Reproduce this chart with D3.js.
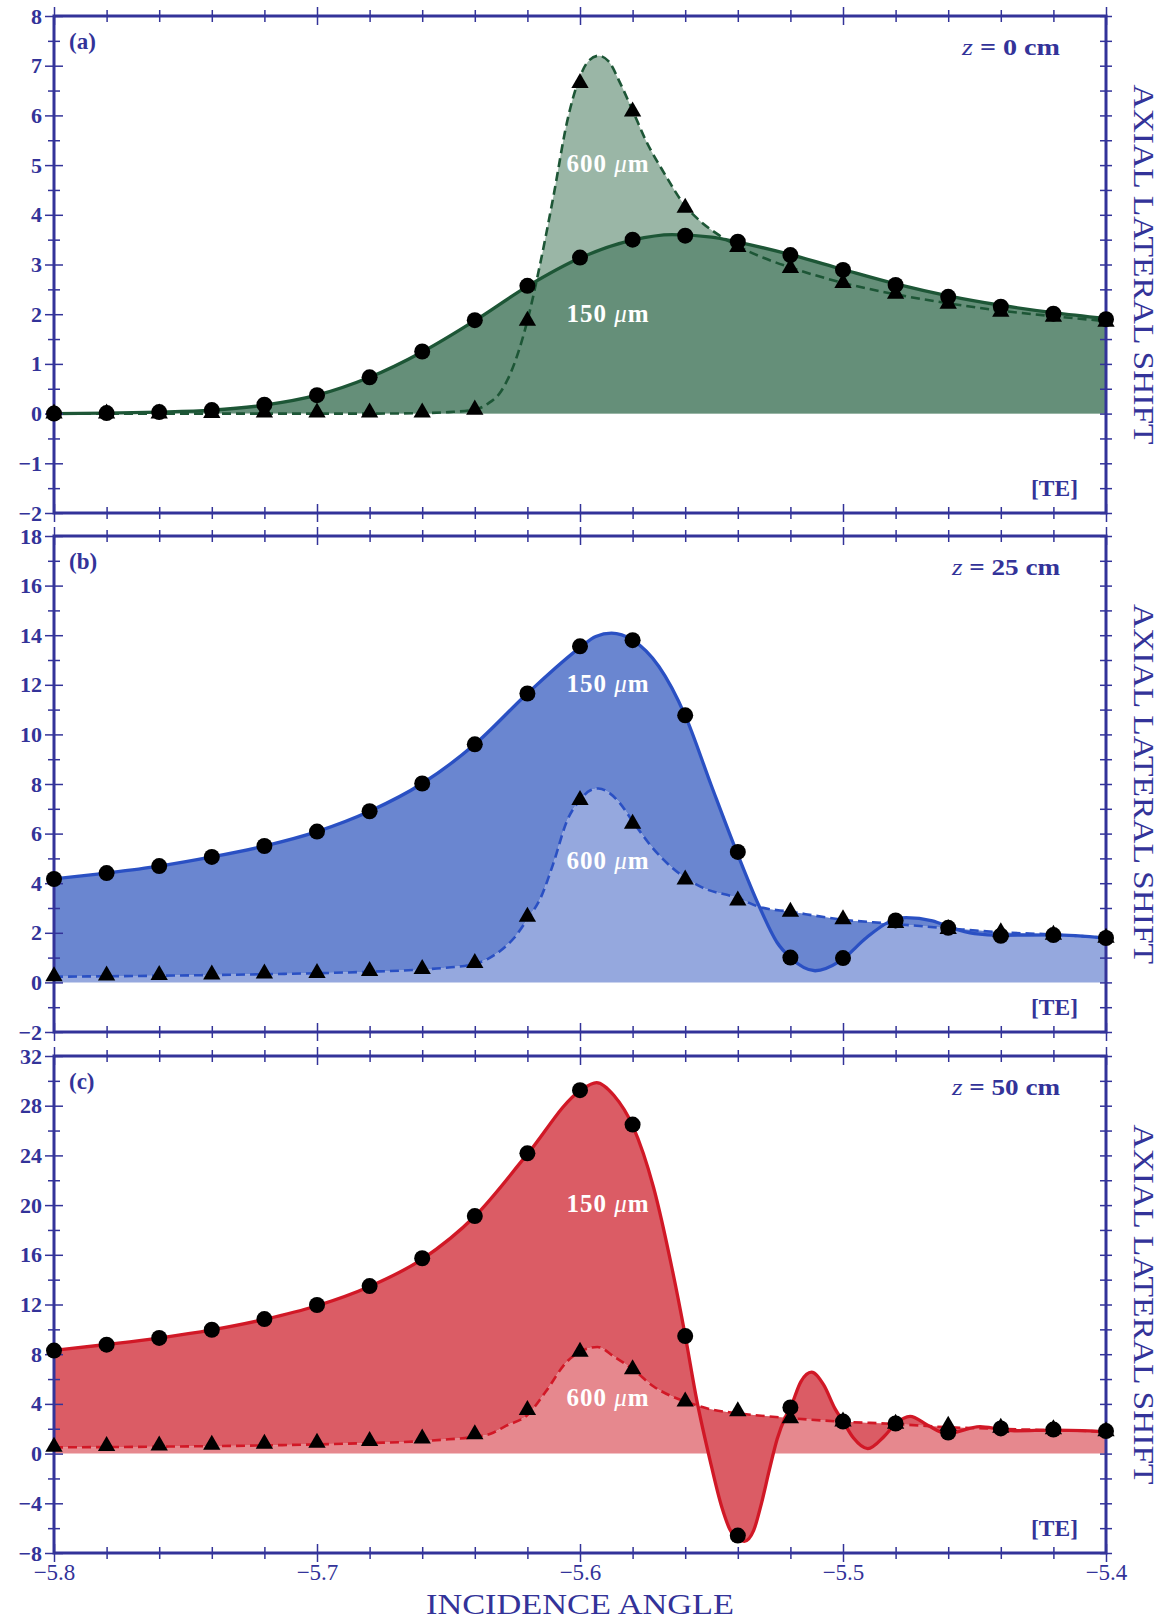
<!DOCTYPE html>
<html><head><meta charset="utf-8">
<script src="https://cdn.jsdelivr.net/npm/d3@7"></script>
<style>body{margin:0;background:#fff}</style>
</head><body>
<svg id="chart" width="1160" height="1618" xmlns="http://www.w3.org/2000/svg"></svg>
<script>
// ---------- data ----------
const angles = [-5.80,-5.78,-5.76,-5.74,-5.72,-5.70,-5.68,-5.66,-5.64,-5.62,-5.60,-5.58,-5.56,-5.54,-5.52,-5.50,-5.48,-5.46,-5.44,-5.42,-5.40];

// simulation markers (circles = 150 um, triangles = 600 um)
const markA150 = [0.00,0.01,0.03,0.07,0.18,0.37,0.73,1.25,1.88,2.57,3.14,3.50,3.58,3.46,3.19,2.89,2.59,2.35,2.15,2.01,1.90];
const markA600 = [0.00,0.00,0.00,0.01,0.02,0.02,0.02,0.02,0.08,1.87,6.65,6.08,4.14,3.35,2.93,2.63,2.41,2.21,2.05,1.95,1.85];
const markB150 = [4.17,4.41,4.69,5.06,5.50,6.08,6.90,8.02,9.60,11.65,13.55,13.80,10.77,5.26,1.00,0.98,2.50,2.20,1.88,1.91,1.79];
const markB600 = [0.25,0.28,0.30,0.32,0.36,0.38,0.46,0.54,0.78,2.65,7.35,6.40,4.15,3.30,2.85,2.55,2.40,2.15,2.02,1.92,1.80];
const markC150 = [8.29,8.77,9.31,9.97,10.83,11.96,13.48,15.72,19.12,24.17,29.25,26.48,9.46,-6.60,3.72,2.58,2.42,1.70,2.03,1.93,1.81];
const markC600 = [0.56,0.62,0.66,0.72,0.80,0.88,1.02,1.22,1.55,3.50,8.20,6.79,4.20,3.40,2.85,2.58,2.40,2.25,2.08,1.96,1.80];

// theory curves [angle, shift]
const curveA150 = [[-5.80,0.00],[-5.78,0.01],[-5.76,0.03],[-5.74,0.07],[-5.72,0.17],[-5.70,0.37],[-5.68,0.73],[-5.66,1.24],[-5.64,1.87],[-5.62,2.56],[-5.60,3.13],[-5.58,3.49],[-5.565,3.60],[-5.55,3.55],[-5.54,3.45],[-5.52,3.20],[-5.50,2.90],[-5.48,2.61],[-5.46,2.37],[-5.44,2.18],[-5.42,2.03],[-5.40,1.91]];
const curveA600 = [[-5.80,0.00],[-5.74,0.00],[-5.68,0.00],[-5.66,0.01],[-5.65,0.03],[-5.64,0.08],[-5.635,0.20],[-5.63,0.45],[-5.625,1.00],[-5.62,1.87],[-5.615,3.05],[-5.61,4.40],[-5.605,5.85],[-5.60,6.78],[-5.597,7.08],[-5.593,7.20],[-5.589,7.08],[-5.585,6.68],[-5.58,6.10],[-5.575,5.50],[-5.568,4.84],[-5.56,4.18],[-5.554,3.86],[-5.548,3.62],[-5.54,3.37],[-5.53,3.13],[-5.52,2.94],[-5.50,2.63],[-5.48,2.40],[-5.46,2.22],[-5.44,2.07],[-5.42,1.96],[-5.40,1.86]];
const curveB150 = [[-5.80,4.17],[-5.78,4.41],[-5.76,4.69],[-5.74,5.06],[-5.72,5.50],[-5.70,6.08],[-5.68,6.90],[-5.66,8.02],[-5.64,9.60],[-5.62,11.65],[-5.60,13.50],[-5.594,13.95],[-5.588,14.08],[-5.58,13.80],[-5.57,12.74],[-5.56,10.76],[-5.55,7.92],[-5.54,5.15],[-5.532,3.10],[-5.525,1.60],[-5.52,1.00],[-5.5106,0.47],[-5.501,0.87],[-5.491,1.81],[-5.483,2.41],[-5.476,2.61],[-5.466,2.48],[-5.459,2.21],[-5.45,1.97],[-5.44,1.90],[-5.42,1.92],[-5.40,1.79]];
const curveB600 = [[-5.80,0.23],[-5.76,0.27],[-5.72,0.33],[-5.68,0.43],[-5.66,0.52],[-5.65,0.60],[-5.64,0.75],[-5.635,0.95],[-5.63,1.30],[-5.625,1.80],[-5.62,2.55],[-5.615,3.40],[-5.61,4.84],[-5.605,6.50],[-5.60,7.35],[-5.596,7.75],[-5.593,7.82],[-5.589,7.65],[-5.585,7.25],[-5.58,6.50],[-5.573,5.50],[-5.563,4.45],[-5.554,3.85],[-5.54,3.40],[-5.532,3.05],[-5.52,2.85],[-5.50,2.53],[-5.483,2.38],[-5.46,2.18],[-5.44,2.02],[-5.42,1.93],[-5.40,1.80]];
const curveC150 = [[-5.80,8.30],[-5.78,8.78],[-5.76,9.30],[-5.74,9.95],[-5.72,10.80],[-5.70,11.90],[-5.68,13.45],[-5.66,15.65],[-5.64,19.10],[-5.62,24.10],[-5.60,29.20],[-5.5937,29.86],[-5.587,28.80],[-5.58,26.40],[-5.572,21.40],[-5.565,14.90],[-5.56,9.50],[-5.5556,4.30],[-5.5506,-0.50],[-5.5461,-4.30],[-5.5425,-6.30],[-5.5375,-7.06],[-5.534,-6.20],[-5.531,-4.00],[-5.528,-1.30],[-5.525,1.20],[-5.522,2.90],[-5.52,3.70],[-5.516,5.80],[-5.512,6.55],[-5.5074,5.55],[-5.503,3.60],[-5.50,2.60],[-5.496,1.25],[-5.4906,0.40],[-5.4843,1.40],[-5.48,2.40],[-5.4745,3.00],[-5.4678,2.28],[-5.4605,1.60],[-5.4479,2.17],[-5.44,1.95],[-5.434,1.84],[-5.42,1.89],[-5.40,1.77]];
const curveC600 = [[-5.80,0.50],[-5.76,0.56],[-5.72,0.66],[-5.68,0.85],[-5.66,1.00],[-5.65,1.15],[-5.64,1.35],[-5.634,1.60],[-5.628,2.25],[-5.62,3.10],[-5.613,5.00],[-5.605,7.40],[-5.60,8.20],[-5.5934,8.58],[-5.587,7.80],[-5.58,6.80],[-5.572,5.40],[-5.565,4.60],[-5.56,4.20],[-5.55,3.55],[-5.54,3.25],[-5.52,2.85],[-5.50,2.57],[-5.48,2.38],[-5.46,2.12],[-5.44,1.99],[-5.42,1.88],[-5.40,1.78]];

// tick values
const xMajor = [-5.8,-5.7,-5.6,-5.5,-5.4];
const xMinor = [-5.78,-5.76,-5.74,-5.72,-5.68,-5.66,-5.64,-5.62,-5.58,-5.56,-5.54,-5.52,-5.48,-5.46,-5.44,-5.42];
const yMajorA = [-2,-1,0,1,2,3,4,5,6,7,8];
const yMinorA = [-1.5,-0.5,0.5,1.5,2.5,3.5,4.5,5.5,6.5,7.5];
const yMajorB = [-2,0,2,4,6,8,10,12,14,16,18];
const yMinorB = [-1,1,3,5,7,9,11,13,15,17];
const yMajorC = [-8,-4,0,4,8,12,16,20,24,28,32];
const yMinorC = [-6,-2,2,6,10,14,18,22,26,30];

const panelLabels = ['(a)','(b)','(c)'];
const zValues = ['0','25','50'];

// ---------- layout / style ----------
const AX = '#333399';
const FONT = "'Liberation Serif', 'Times New Roman', serif";
const left = 54, right = 1106;
const panels = [
  {top:16, bottom:513, domain:[-2,8], major:yMajorA, minor:yMinorA, c150:curveA150, c600:curveA600, m150:markA150, m600:markA600,
   mode:'over', line:'#1d5636', dark:'#658f79', light:'#9ab6a6', lab150:2.02, lab600:5.05},
  {top:536, bottom:1032, domain:[-2,18], major:yMajorB, minor:yMinorB, c150:curveB150, c600:curveB600, m150:markB150, m600:markB600,
   mode:'between', line:'#2a50c3', dark:'#6a86d0', light:'#95a8de', lab150:12.07, lab600:4.94},
  {top:1056, bottom:1553, domain:[-8,32], major:yMajorC, minor:yMinorC, c150:curveC150, c600:curveC600, m150:markC150, m600:markC600,
   mode:'between', line:'#d11826', dark:'#db5c65', light:'#e6888e', lab150:20.2, lab600:4.55}
];

const svg = d3.select('#chart');
const x = d3.scaleLinear().domain([-5.8,-5.4]).range([left,right]);
const defs = svg.append('defs');

panels.forEach((p, i) => {
  const y = d3.scaleLinear().domain(p.domain).range([p.bottom, p.top]);
  const g = svg.append('g');
  const clipId = 'clip' + i;
  defs.append('clipPath').attr('id', clipId).append('rect')
    .attr('x', left).attr('y', p.top).attr('width', right-left).attr('height', p.bottom-p.top);
  const plot = g.append('g').attr('clip-path', `url(#${clipId})`);

  const area = d3.area().x(d => x(d[0])).y0(y(0)).y1(d => y(d[1])).curve(d3.curveMonotoneX);
  const line = d3.line().x(d => x(d[0])).y(d => y(d[1])).curve(d3.curveMonotoneX);

  plot.append('path').attr('d', area(p.c600)).attr('fill', p.light);
  if (p.mode === 'over') {
    plot.append('path').attr('d', area(p.c150)).attr('fill', p.dark);
  } else {
    plot.append('path').attr('d', area(p.c150) + area(p.c600)).attr('fill', p.dark).attr('fill-rule','evenodd');
  }
  plot.append('path').attr('d', line(p.c600)).attr('fill','none').attr('stroke', p.line)
    .attr('stroke-width', 2.6).attr('stroke-dasharray','9,5');
  plot.append('path').attr('d', line(p.c150)).attr('fill','none').attr('stroke', p.line)
    .attr('stroke-width', 3.3);

  // curve labels
  [[p.lab150,'150'],[p.lab600,'600']].forEach(([v, t]) => {
    const tx = g.append('text').attr('x', x(-5.5895)).attr('y', y(v)).attr('text-anchor','middle')
      .attr('dominant-baseline','central').attr('fill','#fff').attr('font-family', FONT)
      .attr('font-size', 25).attr('font-weight','bold')
      .attr('textLength', 82).attr('lengthAdjust','spacing');
    tx.append('tspan').text(t + ' ');
    tx.append('tspan').attr('font-style','italic').attr('font-weight','normal').text('\u03bc');
    tx.append('tspan').text('m');
  });

  // axes (ticks crossing the frame)
  const styleAxis = s => {
    s.select('.domain').remove();
    s.attr('color', AX);
    s.selectAll('line').attr('stroke-width', 1.5);
    s.selectAll('text').attr('font-family', FONT).attr('fill', AX);
  };
  const addAxis = (gen, tr) => g.append('g').attr('transform', tr).call(gen).call(styleAxis);
  const fmt = d3.format('d');
  // left
  addAxis(d3.axisLeft(y).tickValues(p.major).tickSize(9).tickPadding(3).tickFormat(fmt), `translate(${left},0)`)
    .selectAll('text').attr('font-size', 22).attr('font-weight','bold');
  addAxis(d3.axisLeft(y).tickValues(p.major).tickSize(-9).tickFormat(''), `translate(${left},0)`);
  addAxis(d3.axisLeft(y).tickValues(p.minor).tickSize(6).tickFormat(''), `translate(${left},0)`);
  addAxis(d3.axisLeft(y).tickValues(p.minor).tickSize(-6).tickFormat(''), `translate(${left},0)`);
  // right
  [6,-6].forEach(s => {
    addAxis(d3.axisRight(y).tickValues(p.major.concat(p.minor)).tickSize(s).tickFormat(''), `translate(${right},0)`);
  });
  // top & bottom
  [9,-9].forEach(s => addAxis(d3.axisTop(x).tickValues(xMajor).tickSize(s).tickFormat(''), `translate(0,${p.top})`));
  [6,-6].forEach(s => addAxis(d3.axisTop(x).tickValues(xMinor).tickSize(s).tickFormat(''), `translate(0,${p.top})`));
  const last = i === panels.length - 1;
  addAxis(d3.axisBottom(x).tickValues(xMajor).tickSize(9).tickPadding(2)
    .tickFormat(last ? d3.format('.1f') : ''), `translate(0,${p.bottom})`)
    .selectAll('text').attr('font-size', 23);
  addAxis(d3.axisBottom(x).tickValues(xMajor).tickSize(-9).tickFormat(''), `translate(0,${p.bottom})`);
  [6,-6].forEach(s => addAxis(d3.axisBottom(x).tickValues(xMinor).tickSize(s).tickFormat(''), `translate(0,${p.bottom})`));

  // frame
  g.append('rect').attr('x', left).attr('y', p.top).attr('width', right-left).attr('height', p.bottom-p.top)
    .attr('fill','none').attr('stroke', AX).attr('stroke-width', 3);

  // markers
  const tri = d3.symbol(d3.symbolTriangle, 130);
  g.append('g').selectAll('path').data(angles.map((a, k) => [a, p.m600[k]])).join('path')
    .attr('d', tri).attr('transform', d => `translate(${x(d[0])},${y(d[1])})`).attr('fill','#000');
  g.append('g').selectAll('circle').data(angles.map((a, k) => [a, p.m150[k]])).join('circle')
    .attr('cx', d => x(d[0])).attr('cy', d => y(d[1])).attr('r', 8).attr('fill','#000');

  // panel texts
  g.append('text').attr('x', 69).attr('y', p.top + 25).attr('dominant-baseline','central')
    .attr('font-family', FONT).attr('font-size', 23).attr('font-weight','bold').attr('fill', AX).text(panelLabels[i]);
  const zt = g.append('text').attr('x', 1060).attr('y', p.top + 31).attr('text-anchor','end')
    .attr('dominant-baseline','central').attr('font-family', FONT).attr('font-size', 24).attr('fill', AX)
    .attr('textLength', i === 0 ? 98 : 108).attr('lengthAdjust','spacingAndGlyphs');
  zt.append('tspan').attr('font-style','italic').text('z');
  zt.append('tspan').attr('font-weight','bold').text(' = ' + zValues[i] + ' cm');
  g.append('text').attr('x', 1078).attr('y', p.bottom - 25).attr('text-anchor','end')
    .attr('dominant-baseline','central').attr('font-family', FONT).attr('font-size', 23).attr('font-weight','bold')
    .attr('fill', AX).attr('textLength', 47).attr('lengthAdjust','spacingAndGlyphs').text('[TE]');
  g.append('text').attr('transform', `translate(1144,${(p.top + p.bottom)/2}) rotate(90)`)
    .attr('text-anchor','middle').attr('dominant-baseline','central').attr('font-family', FONT)
    .attr('font-size', 30).attr('fill', AX).attr('textLength', 360).attr('lengthAdjust','spacingAndGlyphs')
    .text('AXIAL LATERAL SHIFT');
});

svg.append('text').attr('x', (left + right)/2).attr('y', 1603).attr('text-anchor','middle')
  .attr('dominant-baseline','central').attr('font-family', FONT).attr('font-size', 30).attr('fill', AX)
  .attr('textLength', 308).attr('lengthAdjust','spacingAndGlyphs')
  .text('INCIDENCE ANGLE');
</script>
</body></html>
